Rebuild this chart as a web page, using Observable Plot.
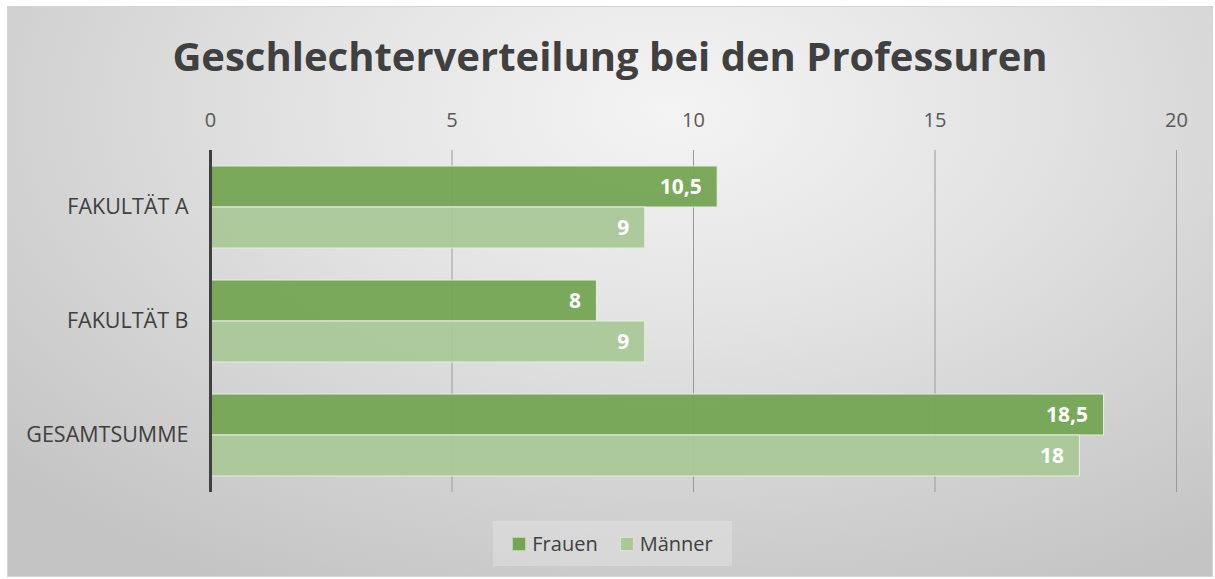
<!DOCTYPE html>
<html><head><meta charset="utf-8">
<script src="https://cdn.jsdelivr.net/npm/d3@7"></script>
<script src="https://cdn.jsdelivr.net/npm/@observablehq/plot@0.6"></script>
<style>
html,body{margin:0;padding:0;background:#fff;width:1215px;height:579px;overflow:hidden;font-family:"Open Sans",sans-serif;}
#frame{position:absolute;left:7px;top:6px;width:1204px;height:569px;border:1px solid #d4d4d4;
  background:radial-gradient(ellipse 75% 95% at 55% 18%, #f4f4f4 0%, #e3e3e3 40%, #d3d3d3 70%, #c4c4c4 100%);}
#title{position:absolute;left:7px;width:1206px;top:36px;text-align:center;font-weight:700;font-size:40px;line-height:1;color:#404040;}
#chart{position:absolute;left:0;top:90px;}
#legend{position:absolute;left:493px;top:521px;width:239px;height:45px;background:rgba(255,255,255,0.22);
  display:flex;align-items:center;justify-content:center;gap:22px;font-size:20px;color:#404040;}
#legend .item{display:flex;align-items:center;gap:6px;}
#legend .sw{width:14px;height:14px;box-sizing:border-box;border:1px solid rgba(255,255,255,0.5);}
</style>
</head><body>
<div id="frame"></div>
<div id="title">Geschlechterverteilung bei den Professuren</div>
<div id="chart"></div>
<div id="legend"></div>
<script>
const categories = ["FAKULTÄT A", "FAKULTÄT B", "GESAMTSUMME"];
const series = ["Frauen", "Männer"];
const frauen = [10.5, 8, 18.5];
const maenner = [9, 9, 18];
const xTicks = [0, 5, 10, 15, 20];
const colors = ["#74a553", "#aac898"];

const rows = [];
categories.forEach((c, i) => {
  rows.push({cat: c, s: series[0], v: frauen[i]});
  rows.push({cat: c, s: series[1], v: maenner[i]});
});
const fmt = d => String(d).replace(".", ",");

const chart = Plot.plot({
  width: 1215,
  height: 420,
  marginTop: 60,
  marginBottom: 18,
  marginLeft: 210,
  marginRight: 39,
  style: {background: "transparent", fontFamily: "Open Sans, sans-serif"},
  x: {domain: [0, 20], axis: null},
  y: {domain: series, paddingInner: 0, paddingOuter: 0.36, axis: null},
  fy: {domain: categories, padding: 0, axis: null},
  color: {domain: series, range: colors},
  marks: [
    Plot.gridX(xTicks.filter(d => d > 0), {stroke: "#9a9a9a", strokeOpacity: 1, strokeWidth: 1}),
    Plot.barX(rows, {fy: "cat", y: "s", x: "v", fill: "s", fillOpacity: 0.95, stroke: "#e6eedf", strokeWidth: 1}),
    Plot.text(rows, {fy: "cat", y: "s", x: "v", text: d => fmt(d.v), textAnchor: "end", dx: -16,
      fill: "white", fontWeight: "bold", fontSize: 21}),
    Plot.ruleX([0], {stroke: "#404040", strokeWidth: 3}),
    Plot.axisX(xTicks, {anchor: "top", tickSize: 0, tickPadding: 24, fontSize: 20, fill: "#595959", label: null, tickFormat: d => d}),
    Plot.axisFy({anchor: "left", tickSize: 0, tickPadding: 22, fontSize: 21.5, fill: "#404040", label: null})
  ]
});
document.getElementById("chart").appendChild(chart);

const leg = document.getElementById("legend");
series.forEach((s, i) => {
  const it = document.createElement("div");
  it.className = "item";
  const sw = document.createElement("span");
  sw.className = "sw";
  sw.style.background = colors[i];
  const t = document.createElement("span");
  t.textContent = s;
  it.appendChild(sw); it.appendChild(t);
  leg.appendChild(it);
});
</script>
</body></html>
